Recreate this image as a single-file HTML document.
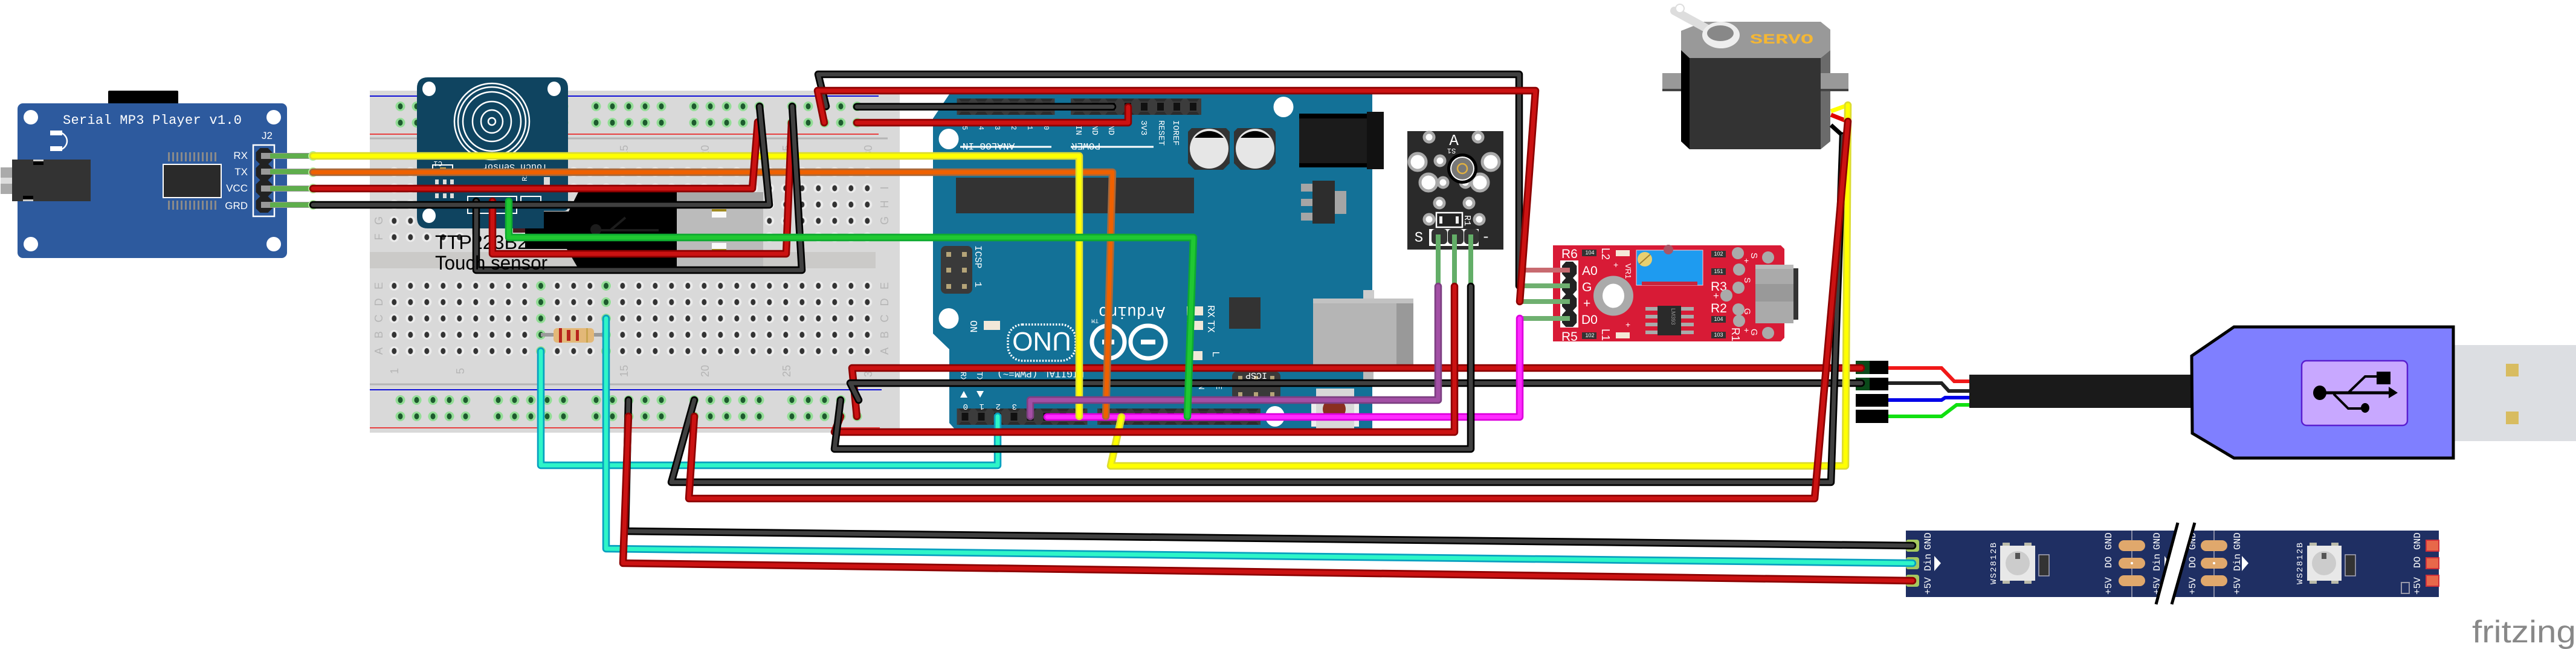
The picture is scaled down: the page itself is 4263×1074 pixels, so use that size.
<!DOCTYPE html>
<html><head><meta charset="utf-8"><style>
html,body{margin:0;padding:0;background:#fff;width:4263px;height:1074px;overflow:hidden}
svg{display:block}
text{font-family:"Liberation Sans",sans-serif}
.m{font-family:"Liberation Mono",monospace;fill:#fff}
.w{fill:#fff}
.bl{font-size:18px;fill:#b5b5b5;text-anchor:middle}
path.wr{fill:none;stroke-linejoin:round;stroke-linecap:round}
.o{stroke-width:12.5}.i{stroke-width:7}
.rO{stroke:#8c0000}.rI{stroke:#cb1212}
.kO{stroke:#000}.kI{stroke:#404040}
.yO{stroke:#dcdc30}.yI{stroke:#ffff00}
.nO{stroke:#a8683a}.nI{stroke:#ef6100}
.gO{stroke:#0eaa30}.gI{stroke:#20c832}
.cO{stroke:#08a0c0}.cI{stroke:#2ef5c8}
.pO{stroke:#7d3f82}.pI{stroke:#a34fa5}
.mO{stroke:#dc00dc}.mI{stroke:#ff2aff}
</style></head><body>
<svg xmlns="http://www.w3.org/2000/svg" width="4263" height="1074" viewBox="0 0 4263 1074">
<defs>
<pattern id="gh" width="27" height="27" patternUnits="userSpaceOnUse"><ellipse cx="13.5" cy="13.5" rx="8" ry="8" fill="#93dd96"/><ellipse cx="13.5" cy="13.5" rx="4" ry="5" fill="#1d5a2e"/></pattern>
<pattern id="mh" width="27" height="27" patternUnits="userSpaceOnUse"><ellipse cx="13.5" cy="13.5" rx="8" ry="8" fill="#ececec"/><ellipse cx="13.5" cy="13.5" rx="4" ry="5" fill="#333"/></pattern>
<pattern id="gg" width="27" height="27" patternUnits="userSpaceOnUse"><ellipse cx="13.5" cy="13.5" rx="8" ry="8" fill="#93dd96"/><ellipse cx="13.5" cy="13.5" rx="4" ry="5" fill="#1d5a2e"/></pattern>
<pattern id="hd" width="27" height="27" patternUnits="userSpaceOnUse"><rect width="27" height="27" fill="#3c3c3c"/><path d="M3 0L7 5H20L24 0M3 27L7 22H20L24 27" fill="#2c2c2c"/><rect x="8" y="7" width="11" height="13" fill="#111"/></pattern>
<polygon id="oct" points="7,0 20,0 27,7 27,20 20,27 7,27 0,20 0,7" fill="#222"/>
</defs>

<!-- Breadboard -->
<rect x="612" y="150" width="877" height="566" fill="#d9d9d9"/>
<rect x="612" y="417" width="837" height="27" fill="#cbcac8"/>
<g stroke-width="2" fill="none">
<path d="M612 159H1454M612 645H1459" stroke="#1010d8"/>
<path d="M612 222H1454M612 708H1456" stroke="#e84040"/>
<path d="M612 229H1469M612 636H1489" stroke="#b5b5b5" stroke-width="3"/>
</g>
<g fill="url(#gh)">
<g transform="translate(649,162.5)"><rect width="135" height="54"/></g>
<g transform="translate(811,162.5)"><rect width="135" height="54"/></g>
<g transform="translate(973,162.5)"><rect width="135" height="54"/></g>
<g transform="translate(1135,162.5)"><rect width="135" height="54"/></g>
<g transform="translate(1297,162.5)"><rect width="135" height="54"/></g>
<g transform="translate(649,648.5)"><rect width="135" height="54"/></g>
<g transform="translate(811,648.5)"><rect width="135" height="54"/></g>
<g transform="translate(973,648.5)"><rect width="135" height="54"/></g>
<g transform="translate(1135,648.5)"><rect width="135" height="54"/></g>
<g transform="translate(1297,648.5)"><rect width="135" height="54"/></g>
</g>
<g transform="translate(638.8,271)"><rect width="810" height="135" fill="url(#mh)"/></g>
<g transform="translate(638.8,459.5)"><rect width="810" height="135" fill="url(#mh)"/></g>
<g transform="translate(881.5,459.5)"><rect width="27" height="135" fill="url(#gg)"/></g>
<g transform="translate(989.5,459.5)"><rect width="27" height="135" fill="url(#gg)"/></g>
<g class="bl">
<text transform="translate(633,392) rotate(-90)" class="bl">F</text><text transform="translate(633,365) rotate(-90)" class="bl">G</text>
<text transform="translate(633,473) rotate(-90)" class="bl">E</text><text transform="translate(633,500) rotate(-90)" class="bl">D</text><text transform="translate(633,527) rotate(-90)" class="bl">C</text><text transform="translate(633,554) rotate(-90)" class="bl">B</text><text transform="translate(633,581) rotate(-90)" class="bl">A</text>
<text transform="translate(1470,311) rotate(-90)" class="bl">I</text><text transform="translate(1470,338) rotate(-90)" class="bl">H</text><text transform="translate(1470,365) rotate(-90)" class="bl">G</text>
<text transform="translate(1470,473) rotate(-90)" class="bl">E</text><text transform="translate(1470,500) rotate(-90)" class="bl">D</text><text transform="translate(1470,527) rotate(-90)" class="bl">C</text><text transform="translate(1470,554) rotate(-90)" class="bl">B</text><text transform="translate(1470,581) rotate(-90)" class="bl">A</text>
<text transform="translate(659,614) rotate(-90)" class="bl">1</text><text transform="translate(768,614) rotate(-90)" class="bl">5</text><text transform="translate(1039,614) rotate(-90)" class="bl">15</text><text transform="translate(1173,614) rotate(-90)" class="bl">20</text><text transform="translate(1308,614) rotate(-90)" class="bl">25</text><text transform="translate(1443,614) rotate(-90)" class="bl">30</text>
<text transform="translate(1039,250) rotate(-90)" class="bl">15</text><text transform="translate(1173,250) rotate(-90)" class="bl">20</text><text transform="translate(1308,250) rotate(-90)" class="bl">25</text><text transform="translate(1443,250) rotate(-90)" class="bl">30</text>
</g>
<!-- Resistor -->
<rect x="895" y="551" width="103" height="6" fill="#9a9a9a"/>
<rect x="916" y="543" width="67" height="24" rx="6" fill="#e3b878"/>
<path d="M925 543h5v24h-5zM938 546h6v18h-6zM953 546h5v18h-5z" fill="#b8241c"/><rect x="970" y="543" width="3" height="24" fill="#c9a550"/>

<!-- USB plug under sensor -->
<rect x="1120" y="318" width="143" height="123" fill="#bbb"/>
<rect x="1120" y="318" width="143" height="14" fill="#a8a8a8"/>
<rect x="1178" y="346" width="24" height="14" fill="#fafafa"/><rect x="1178" y="346" width="24" height="4" fill="#a08a20"/>
<rect x="1178" y="402" width="24" height="14" fill="#fafafa"/><rect x="1178" y="412" width="24" height="4" fill="#a08a20"/>
<polygon points="957,318 1120,318 1120,441 955,441 938,412 869,412 869,350 941,350" fill="#000"/>
<rect x="849" y="364" width="20" height="21" fill="#4a1a20"/>
<path d="M985 381H1090M1010 381L1035 360" stroke="#1c1c1c" stroke-width="4" fill="none"/><circle cx="986" cy="380" r="9" fill="#1c1c1c"/>

<!-- Touch sensor -->
<path d="M708 128H922Q940 128 940 146V342Q940 349 933 349H900V378H708Q690 378 690 360V146Q690 128 708 128Z" fill="#0f4460"/>
<ellipse cx="710" cy="147" rx="11" ry="12" fill="#fff"/><ellipse cx="917" cy="147" rx="11" ry="12" fill="#fff"/><ellipse cx="710" cy="357" rx="11" ry="12" fill="#fff"/>
<g fill="none" stroke="#fff" stroke-width="2.5">
<ellipse cx="814" cy="201" rx="62" ry="63"/><ellipse cx="814" cy="201" rx="56" ry="57"/><ellipse cx="814" cy="201" rx="48" ry="49"/><ellipse cx="814" cy="201" rx="32" ry="33"/><ellipse cx="814" cy="201" rx="18" ry="19"/><ellipse cx="814" cy="201" rx="6" ry="6"/>
</g>
<text transform="translate(852,272) rotate(180)" class="m" font-size="15" text-anchor="middle">Touch Sensor</text>
<text transform="translate(732,267) rotate(180)" class="m" font-size="12">C1</text>
<rect x="716" y="273" width="33" height="14" fill="none" stroke="#fff" stroke-width="2"/>
<rect x="728" y="277" width="10" height="8" fill="#c9a550"/>
<rect x="774" y="325" width="81" height="28" fill="none" stroke="#fff" stroke-width="2"/>
<rect x="862" y="325" width="33" height="15" fill="none" stroke="#fff" stroke-width="2"/>
<path d="M720 297h6v8h-6zM733 297h6v8h-6zM745 297h6v8h-6zM720 320h6v8h-6zM733 320h6v8h-6zM745 320h6v8h-6z" fill="#ddd"/>
<text transform="translate(872,300) rotate(-90)" class="m" font-size="12">R2</text>
<rect x="900" y="293" width="10" height="22" fill="#ddd"/>
<text x="720" y="412" font-size="32" fill="#000" textLength="154" lengthAdjust="spacingAndGlyphs">TTP223B2</text>

<!-- Arduino -->
<polygon points="1571,156 2271,156 2271,710 1580,710 1571,700 1571,578 1544,552 1544,196" fill="#137197"/>
<g fill="#fff">
<ellipse cx="1570" cy="230" rx="16.5" ry="17"/><ellipse cx="2124" cy="177" rx="16.5" ry="17"/><ellipse cx="1570" cy="527" rx="16.5" ry="17"/><ellipse cx="2110" cy="689" rx="16" ry="17"/>
</g>
<g transform="translate(1583.5,163)"><rect width="162" height="27" fill="url(#hd)"/></g>
<g transform="translate(1772,163)"><rect width="216" height="27" fill="url(#hd)"/></g>
<g transform="translate(1583.5,676)"><rect width="216" height="27" fill="url(#hd)"/></g>
<g transform="translate(1816,676)"><rect width="270" height="27" fill="url(#hd)"/></g>
<path d="M1589 243H1740M1772 243H1909" stroke="#fff" stroke-width="3"/>
<text transform="translate(1636,237) rotate(180)" class="m" font-size="16" text-anchor="middle">ANALOG IN</text>
<text transform="translate(1797,237) rotate(180)" class="m" font-size="16" text-anchor="middle">POWER</text>
<g class="m" font-size="14">
<text transform="translate(1889,199) rotate(90)" class="m" font-size="14">3V3</text>
<text transform="translate(1918,199) rotate(90)" class="m" font-size="14">RESET</text>
<text transform="translate(1942,199) rotate(90)" class="m" font-size="14">IOREF</text>
<text transform="translate(1781,207) rotate(90)" class="m" font-size="14">IN</text>
<text transform="translate(1808,207) rotate(90)" class="m" font-size="14">ND</text>
<text transform="translate(1835,207) rotate(90)" class="m" font-size="14">ND</text>
<text transform="translate(1593,208) rotate(90)" class="m" font-size="12">5</text><text transform="translate(1620,208) rotate(90)" class="m" font-size="12">4</text><text transform="translate(1647,208) rotate(90)" class="m" font-size="12">3</text><text transform="translate(1674,208) rotate(90)" class="m" font-size="12">2</text><text transform="translate(1701,208) rotate(90)" class="m" font-size="12">1</text><text transform="translate(1728,208) rotate(90)" class="m" font-size="12">0</text>
</g>
<!-- caps -->
<path d="M1972 212H2029L2035 218V270L2024 281H1977L1966 270V218Z" fill="#333"/>
<path d="M2048 212H2105L2111 218V270L2100 281H2053L2042 270V218Z" fill="#333"/>
<ellipse cx="2001" cy="246" rx="32" ry="33" fill="#e6e6e6"/><ellipse cx="2077" cy="246" rx="32" ry="33" fill="#e6e6e6"/>
<path d="M1977 228A32 33 0 0 1 2025 228Z" fill="#000"/><path d="M2053 228A32 33 0 0 1 2101 228Z" fill="#000"/>
<!-- power jack -->
<rect x="2150" y="188" width="130" height="89" fill="#1b1b1b"/>
<rect x="2262" y="185" width="28" height="95" fill="#111"/>
<rect x="2150" y="188" width="112" height="8" fill="#000"/><rect x="2150" y="270" width="112" height="7" fill="#000"/>
<!-- ATmega -->
<rect x="1582" y="294" width="394" height="59" fill="#333"/>
<!-- regulator -->
<path d="M2153 304h19v13h-19zM2153 329h19v12h-19zM2153 352h19v13h-19z" fill="#a5a5a5"/>
<rect x="2209" y="316" width="19" height="38" fill="#a5a5a5"/>
<rect x="2172" y="299" width="37" height="71" fill="#2d2d2d"/>
<!-- ICSP left -->
<rect x="1557" y="407" width="52" height="79" rx="8" fill="#3a3a3a"/>
<path d="M1566 417h8v8h-8zM1592 417h8v8h-8zM1566 443h8v8h-8zM1592 443h8v8h-8zM1566 470h8v8h-8zM1592 470h8v8h-8z" fill="#b5a478"/>
<text transform="translate(1614,406) rotate(90)" class="m" font-size="16">ICSP</text>
<text transform="translate(1614,466) rotate(90)" class="m" font-size="16">1</text>
<!-- LEDs -->
<rect x="1628" y="531" width="27" height="15" fill="#f2e8d8"/><rect x="1964" y="507" width="27" height="15" fill="#f2e8d8"/><rect x="1964" y="531" width="27" height="15" fill="#f2e8d8"/><rect x="1973" y="581" width="17" height="15" fill="#f2e8d8"/>
<text transform="translate(1606,530) rotate(90)" class="m" font-size="17">ON</text>
<text transform="translate(1999,505) rotate(90)" class="m" font-size="17">RX</text>
<text transform="translate(1999,530) rotate(90)" class="m" font-size="17">TX</text>
<text transform="translate(2007,581) rotate(90)" class="m" font-size="17">L</text>
<rect x="2034" y="492" width="52" height="52" fill="#333"/>
<!-- USB on Arduino -->
<rect x="2256" y="480" width="18" height="16" fill="#ccc"/>
<rect x="2173" y="494" width="138" height="121" fill="#b5b5b5"/><rect x="2311" y="494" width="28" height="121" fill="#999"/>
<rect x="2173" y="494" width="166" height="8" fill="#c2c2c2"/>
<rect x="2256" y="615" width="17" height="15" fill="#bbb"/>
<!-- ICSP 2 -->
<rect x="2039" y="615" width="80" height="46" rx="8" fill="#3a3a3a"/>
<path d="M2049 622h7v9h-7zM2075 622h7v9h-7zM2102 622h7v9h-7zM2049 649h7v9h-7zM2075 649h7v9h-7zM2102 649h7v9h-7z" fill="#b5a478"/>
<text transform="translate(2079,617) rotate(180)" class="m" font-size="15" text-anchor="middle">ICSP</text>
<!-- reset -->
<rect x="2170" y="661" width="79" height="45" fill="#eee"/><rect x="2178" y="643" width="63" height="67" fill="#d8d8d8"/>
<ellipse cx="2208" cy="677" rx="19" ry="18" fill="#8a2f20"/>
<!-- logo -->
<rect x="1668" y="537" width="112" height="60" rx="24" fill="none" stroke="#fff" stroke-width="3.5" stroke-dasharray="2.5 2.5"/>
<text transform="translate(1724,550) rotate(180)" font-size="44" fill="#fff" text-anchor="middle" style="font-weight:400">UNO</text>
<ellipse cx="1834" cy="566" rx="27" ry="27" fill="none" stroke="#fff" stroke-width="7"/>
<ellipse cx="1900" cy="566" rx="29" ry="27" fill="none" stroke="#fff" stroke-width="7"/>
<rect x="1888" y="562" width="24" height="8" fill="#fff"/><rect x="1824" y="562" width="20" height="8" fill="#fff"/>
<text transform="translate(1873,508) rotate(180)" class="m" font-size="28" text-anchor="middle" textLength="110" lengthAdjust="spacingAndGlyphs">Arduino</text>
<text transform="translate(1812,528) rotate(180)" class="m" font-size="10" text-anchor="middle">TM</text>
<text transform="translate(1722,614) rotate(180)" class="m" font-size="16" text-anchor="middle">DIGITAL (PWM=~)</text>
<g>
<text transform="translate(1590,615) rotate(90)" class="m" font-size="14">RX</text>
<text transform="translate(1617,615) rotate(90)" class="m" font-size="14">TX</text>
<text transform="translate(1602,669) rotate(180)" class="m" font-size="14">0</text><text transform="translate(1629,669) rotate(180)" class="m" font-size="14">1</text><text transform="translate(1656,669) rotate(180)" class="m" font-size="14">2</text><text transform="translate(1683,669) rotate(180)" class="m" font-size="14">3</text>
<polygon points="1589,658 1601,658 1595,647" fill="#fff"/><polygon points="1616,647 1628,647 1622,658" fill="#fff"/>
<text transform="translate(1984,628) rotate(90)" class="m" font-size="14">GN</text>
<text transform="translate(2013,628) rotate(90)" class="m" font-size="14">RE</text>
</g>

<!-- MP3 player -->
<rect x="179" y="150" width="116" height="25" rx="2" fill="#000"/>
<rect x="29" y="171" width="446" height="256" rx="9" fill="#2d5a9e"/>
<ellipse cx="51" cy="194" rx="12" ry="12" fill="#fff"/><ellipse cx="453" cy="194" rx="12" ry="12" fill="#fff"/><ellipse cx="51" cy="404" rx="12" ry="12" fill="#fff"/><ellipse cx="453" cy="404" rx="12" ry="12" fill="#fff"/>
<text x="104" y="205" class="m" font-size="22" textLength="296">Serial MP3 Player v1.0</text>
<path d="M100 219A19 16 0 0 1 100 248" fill="none" stroke="#fff" stroke-width="2.5"/>
<path d="M83 216h20v8h-20zM83 242h20v8h-20z" fill="#fff"/>
<rect x="1" y="277" width="19" height="44" fill="#aaa"/><rect x="1" y="294" width="19" height="10" fill="#ddd"/>
<rect x="20" y="264" width="130" height="69" fill="#333"/>
<rect x="55" y="265" width="17" height="8" fill="#000"/><rect x="38" y="324" width="17" height="8" fill="#000"/>
<rect x="55" y="264" width="17" height="3" fill="#ccc"/><rect x="38" y="330" width="17" height="3" fill="#ccc"/>
<g fill="#8a8a8a">
<path d="M278 252h3v15h-3zM285 252h3v15h-3zM292 252h3v15h-3zM299 252h3v15h-3zM306 252h3v15h-3zM313 252h3v15h-3zM320 252h3v15h-3zM327 252h3v15h-3zM334 252h3v15h-3zM341 252h3v15h-3zM348 252h3v15h-3zM355 252h3v15h-3z"/>
<path d="M278 332h3v15h-3zM285 332h3v15h-3zM292 332h3v15h-3zM299 332h3v15h-3zM306 332h3v15h-3zM313 332h3v15h-3zM320 332h3v15h-3zM327 332h3v15h-3zM334 332h3v15h-3zM341 332h3v15h-3zM348 332h3v15h-3zM355 332h3v15h-3z"/>
</g>
<rect x="270" y="272" width="96" height="55" fill="#2a2a2a" stroke="#fff" stroke-width="2"/>
<rect x="419" y="240" width="35" height="118" fill="none" stroke="#fff" stroke-width="2.5"/>
<use href="#oct" x="423.5" y="245"/><use href="#oct" x="423.5" y="271"/><use href="#oct" x="423.5" y="298"/><use href="#oct" x="423.5" y="325"/>
<g class="m" font-size="17" text-anchor="end">
<text x="410" y="263">RX</text><text x="410" y="290">TX</text><text x="410" y="317">VCC</text><text x="410" y="346">GRD</text>
<text x="451" y="230">J2</text>
</g>
<g>
<rect x="432" y="253" width="86" height="10" fill="#999"/><rect x="432" y="279" width="86" height="10" fill="#999"/><rect x="432" y="307" width="86" height="10" fill="#999"/><rect x="432" y="334" width="86" height="10" fill="#999"/>
<rect x="447" y="254" width="71" height="8" fill="#5fae4c"/><rect x="447" y="280" width="71" height="8" fill="#5fae4c"/><rect x="447" y="308" width="71" height="8" fill="#5fae4c"/><rect x="447" y="335" width="71" height="8" fill="#5fae4c"/>
<circle cx="518" cy="258" r="8" fill="#b4f0a0"/><circle cx="518" cy="285" r="8" fill="#b4f0a0"/><circle cx="518" cy="312" r="8" fill="#b4f0a0"/><circle cx="518" cy="339" r="8" fill="#b4f0a0"/>
</g>

<!-- KY sensor -->
<rect x="2329" y="217" width="159" height="196" fill="#2a2a2a"/>
<g fill="#fff" stroke="#aaa" stroke-width="5">
<circle cx="2365" cy="227" r="8"/><circle cx="2446" cy="227" r="8"/>
<circle cx="2346" cy="268" r="14"/><circle cx="2467" cy="268" r="14"/>
<circle cx="2383" cy="266" r="8"/>
<circle cx="2364" cy="302" r="14"/><circle cx="2449" cy="302" r="14"/><circle cx="2388" cy="302" r="8"/><circle cx="2425" cy="302" r="8"/>
<circle cx="2382" cy="336" r="8"/><circle cx="2431" cy="336" r="8"/>
<circle cx="2365" cy="363" r="8"/><circle cx="2448" cy="363" r="8"/>
</g>
<circle cx="2420" cy="279" r="25" fill="#000"/><circle cx="2420" cy="279" r="20" fill="#fff"/><circle cx="2420" cy="279" r="18" fill="#777"/><circle cx="2420" cy="279" r="8" fill="none" stroke="#e0b040" stroke-width="2.5"/>
<text x="2406" y="240" class="m" font-size="26" text-anchor="middle">A</text>
<text transform="translate(2402,246) rotate(180)" class="m" font-size="12" text-anchor="middle">S1</text>
<rect x="2377" y="352" width="43" height="24" fill="#222" stroke="#fff" stroke-width="2.5"/><rect x="2382" y="358" width="32" height="12" fill="#eee"/><rect x="2387" y="358" width="22" height="12" fill="#222"/>
<text transform="translate(2424,356) rotate(90)" class="m" font-size="15">R1</text>
<rect x="2365" y="379" width="82" height="28" fill="#fff"/><rect x="2369" y="379" width="26" height="25" rx="6" fill="#333"/><rect x="2396" y="379" width="26" height="25" rx="6" fill="#333"/><rect x="2423" y="379" width="24" height="25" rx="6" fill="#333"/>
<text x="2348" y="400" class="m" font-size="24" text-anchor="middle">S</text><text x="2459" y="399" class="m" font-size="24" text-anchor="middle">-</text>
<path d="M2380 388V474M2407 388V474M2434 388V474" stroke="#63ae68" stroke-width="8" fill="none"/>

<!-- Microphone -->
<polygon points="2570,406 2947,406 2953,412 2953,559 2947,565 2570,565" fill="#d81b36"/>
<rect x="2582" y="431" width="30" height="111" fill="#fff"/>
<use href="#oct" transform="translate(2585,433) scale(.9,1)"/><use href="#oct" transform="translate(2585,460) scale(.9,1)"/><use href="#oct" transform="translate(2585,487) scale(.9,1)"/><use href="#oct" transform="translate(2585,514) scale(.9,1)"/>
<g class="w" font-size="21">
<text x="2584" y="427" fill="#fff">R6</text><text x="2618" y="455" fill="#fff">A0</text><text x="2618" y="482" fill="#fff">G</text><text x="2620" y="509" fill="#fff">+</text><text x="2617" y="536" fill="#fff">D0</text><text x="2584" y="564" fill="#fff">R5</text>
<text x="2831" y="481" fill="#fff">R3</text><text x="2831" y="517" fill="#fff">R2</text>
</g>
<rect x="2708" y="414" width="110" height="58" fill="#1e9bf0" stroke="#f0d0e0"/><rect x="2717" y="466" width="92" height="6" fill="#c8243c"/>
<circle cx="2722" cy="429" r="12" fill="#e8d070"/>
<path d="M2713 437L2731 421" stroke="#a08030" stroke-width="2"/>
<circle cx="2761" cy="413" r="8" fill="#a56"/>
<ellipse cx="2670" cy="489.5" rx="33" ry="33" fill="#aaa"/><ellipse cx="2670" cy="489.5" rx="18" ry="20" fill="#fff"/>
<g fill="#aaa"><rect x="2723" y="508" width="80" height="6"/><rect x="2723" y="521" width="80" height="6"/><rect x="2723" y="534" width="80" height="6"/><rect x="2723" y="547" width="80" height="6"/></g>
<rect x="2743" y="506" width="39" height="49" fill="#2a2a2a"/>
<text transform="translate(2766,510) rotate(90)" font-size="9" fill="#999">LM393</text>
<g fill="#333"><rect x="2618" y="413" width="24" height="11"/><rect x="2618" y="550" width="24" height="11"/><rect x="2832" y="415" width="24" height="11"/><rect x="2832" y="444" width="24" height="11"/><rect x="2832" y="523" width="24" height="11"/><rect x="2832" y="549" width="24" height="11"/></g>
<g class="m" font-size="9" text-anchor="middle">
<text x="2631" y="421">104</text><text x="2631" y="558">102</text><text x="2844" y="423">102</text><text x="2844" y="452">151</text><text x="2844" y="531">104</text><text x="2844" y="557">103</text>
</g>
<g class="w" font-size="14">
<text transform="translate(2651,410) rotate(90)" fill="#fff" font-size="18">L2</text>
<text transform="translate(2651,544) rotate(90)" fill="#fff" font-size="18">L1</text>
<text transform="translate(2690,436) rotate(90)" fill="#fff" font-size="13">VR1</text>
<text x="2670" y="443" fill="#fff">+</text><text x="2690" y="542" fill="#fff">+</text>
<text transform="translate(2898,418) rotate(90)" fill="#fff" font-size="15">S</text>
<text x="2886" y="436" fill="#fff">+</text>
<text transform="translate(2887,459) rotate(90)" fill="#fff" font-size="14">S</text>
<text x="2835" y="495" fill="#fff" font-size="17">+</text>
<text transform="translate(2887,510) rotate(90)" fill="#fff" font-size="14">G</text>
<text x="2886" y="551" fill="#fff">+</text>
<text transform="translate(2898,544) rotate(90)" fill="#fff" font-size="15">G</text>
<text transform="translate(2866,542) rotate(90)" fill="#fff" font-size="18">R1</text>
</g>
<rect x="2674" y="414" width="23" height="10" fill="#f5e8d8"/><rect x="2674" y="550" width="23" height="10" fill="#f5e8d8"/>
<g fill="#aaa"><circle cx="2876" cy="419" r="10"/><circle cx="2878" cy="446" r="10"/><circle cx="2878" cy="531" r="10"/><circle cx="2877" cy="476" r="10"/><circle cx="2857" cy="489" r="10"/><circle cx="2877" cy="512" r="10"/><circle cx="2926" cy="426" r="10"/><circle cx="2926" cy="551" r="10"/></g>
<rect x="2968" y="444" width="8" height="85" fill="#333"/>
<rect x="2905" y="438" width="63" height="97" fill="#aaa"/><rect x="2905" y="470" width="63" height="29" fill="#999"/><rect x="2905" y="438" width="63" height="7" fill="#bbb"/>
<g fill="#6fb070"><rect x="2520" y="469" width="78" height="8"/><rect x="2520" y="495" width="78" height="8"/><rect x="2520" y="523" width="78" height="8"/></g>
<rect x="2524" y="443" width="74" height="8" fill="#c86a70"/>

<!-- Servo -->
<rect x="2751" y="121" width="45" height="30" fill="#999"/><rect x="2751" y="147" width="45" height="4" fill="#444"/>
<rect x="3013" y="121" width="46" height="30" fill="#999"/><rect x="3013" y="147" width="46" height="4" fill="#444"/>
<polygon points="2782,51 2820,36 3013,36 3029,49 3029,83 3013,96 2796,96 2782,83" fill="#999"/>
<polygon points="2782,83 2796,96 2796,247 2782,234" fill="#000"/>
<polygon points="3013,96 3029,83 3029,234 3013,247" fill="#6b6b6b"/>
<rect x="2796" y="96" width="217" height="151" fill="#333"/>
<path d="M3013 121H3029V138L3013 151Z M3013 121H3029V151H3013Z" fill="#999"/><rect x="3013" y="147" width="16" height="4" fill="#444"/>
<path d="M2771 18L2848 60" stroke="#ddd" stroke-width="14" stroke-linecap="round"/>
<ellipse cx="2848" cy="58" rx="31" ry="22" fill="#eee"/>
<circle cx="2780" cy="14" r="7" fill="#fff" stroke="#ddd" stroke-width="2"/>
<ellipse cx="2847" cy="55" rx="22" ry="13" fill="#888"/>
<text x="2896" y="72" font-size="23" style="font-family:'Liberation Mono',monospace;font-weight:700" fill="#f5b733" textLength="105" lengthAdjust="spacingAndGlyphs">SERVO</text>
<path d="M3030 184L3058 174" stroke="#ffff00" stroke-width="7"/><path d="M3030 190L3058 201" stroke="#e00000" stroke-width="7"/><path d="M3030 207L3050 225" stroke="#000" stroke-width="7"/>

<!-- USB FTDI cable -->
<g fill="none" stroke-width="6">
<path d="M3125 609H3213L3234 631H3259" stroke="#f01818"/>
<path d="M3125 634H3213L3225 647H3259" stroke="#222"/>
<path d="M3125 662H3213L3219 658H3259" stroke="#0000e8"/>
<path d="M3125 689H3213L3238 670H3259" stroke="#10e010"/>
</g>
<rect x="3071" y="597" width="54" height="22" fill="#000"/><rect x="3071" y="625" width="54" height="21" fill="#000"/><rect x="3071" y="652" width="54" height="21" fill="#000"/><rect x="3071" y="678" width="54" height="22" fill="#000"/>
<rect x="3071" y="597" width="23" height="22" fill="#0a4a1a"/><rect x="3071" y="625" width="23" height="21" fill="#0a4a1a"/>
<rect x="3259" y="620" width="368" height="55" fill="#1a1a1a"/>
<rect x="4062" y="571" width="201" height="159" fill="#dcdee2"/>
<rect x="4147" y="602" width="21" height="21" fill="#d8bc60"/><rect x="4147" y="681" width="21" height="21" fill="#d8bc60"/>
<polygon points="3627,589 3697,541 4060,541 4060,758 3697,758 3628,717" fill="#7f7fff" stroke="#000" stroke-width="5"/>
<rect x="3809" y="597" width="175" height="107" rx="8" fill="#c8a8ff" stroke="#5a1fd0" stroke-width="2.5"/>
<ellipse cx="3839" cy="650" rx="11" ry="12" fill="#000"/>
<path d="M3845 650H3960" stroke="#000" stroke-width="5"/><polygon points="3953,640 3968,650 3953,659" fill="#000"/>
<path d="M3886 650L3914 623H3940" stroke="#000" stroke-width="4" fill="none"/><rect x="3933" y="615" width="23" height="21" fill="#000"/>
<path d="M3862 652L3886 676H3910" stroke="#000" stroke-width="4" fill="none"/><ellipse cx="3914" cy="675" rx="7" ry="8" fill="#000"/>

<!-- LED strip -->
<rect x="3154" y="878" width="882" height="110" fill="#1f2f63"/>
<path d="M3528 878V988M3664 878V988" stroke="#aab" stroke-width="1.5"/>
<g fill="#e0a86c">
<rect x="3506" y="894" width="44" height="18" rx="9"/><rect x="3506" y="923" width="44" height="18" rx="9"/><rect x="3506" y="952" width="44" height="18" rx="9"/>
<rect x="3642" y="894" width="44" height="18" rx="9"/><rect x="3642" y="923" width="44" height="18" rx="9"/><rect x="3642" y="952" width="44" height="18" rx="9"/>
</g>
<circle cx="3528" cy="932" r="2" fill="#fff"/><circle cx="3664" cy="932" r="2" fill="#fff"/>
<g fill="#e8684a" stroke="#d0303a" stroke-width="2"><rect x="4015" y="894" width="21" height="18"/><rect x="4015" y="923" width="21" height="18"/><rect x="4015" y="952" width="21" height="18"/></g>
<g fill="#a5c860"><rect x="3154" y="893" width="22" height="20" rx="4"/><rect x="3154" y="922" width="22" height="20" rx="4"/><rect x="3154" y="951" width="22" height="20" rx="4"/></g>
<g>
<rect x="3310" y="903" width="58" height="58" fill="#e8e8e8"/><circle cx="3339" cy="932" r="20" fill="#ccc"/><rect x="3335" y="915" width="8" height="10" fill="#555"/>
<rect x="3818" y="903" width="57" height="58" fill="#e8e8e8"/><circle cx="3846" cy="932" r="20" fill="#ccc"/><rect x="3842" y="915" width="8" height="10" fill="#555"/>
<path d="M3314 898h12v5h-12zM3350 898h12v5h-12zM3314 961h12v5h-12zM3350 961h12v5h-12zM3822 898h12v5h-12zM3858 898h12v5h-12zM3822 961h12v5h-12zM3858 961h12v5h-12z" fill="#bba"/>
<rect x="3374" y="918" width="17" height="35" fill="#333" stroke="#aab" stroke-width="1.5"/><rect x="3881" y="918" width="17" height="35" fill="#333" stroke="#aab" stroke-width="1.5"/>
</g>
<polygon points="3201,920 3212,932 3201,945" fill="#fff"/><polygon points="3582,920 3590,932 3582,945" fill="#fff"/><polygon points="3710,920 3721,932 3710,945" fill="#fff"/>
<g>
<text transform="translate(3303,967) rotate(-90)" class="m" font-size="14" textLength="69">WS2812B</text>
<text transform="translate(3810,967) rotate(-90)" class="m" font-size="14" textLength="69">WS2812B</text>
<text transform="translate(3195,910) rotate(-90)" class="m" font-size="16">GND</text><text transform="translate(3195,945) rotate(-90)" class="m" font-size="16">Din</text><text transform="translate(3195,984) rotate(-90)" class="m" font-size="16">+5V</text>
<text transform="translate(3494,910) rotate(-90)" class="m" font-size="16">GND</text><text transform="translate(3494,940) rotate(-90)" class="m" font-size="16">DO</text><text transform="translate(3494,984) rotate(-90)" class="m" font-size="16">+5V</text>
<text transform="translate(3574,910) rotate(-90)" class="m" font-size="16">GND</text><text transform="translate(3574,945) rotate(-90)" class="m" font-size="16">Din</text><text transform="translate(3574,984) rotate(-90)" class="m" font-size="16">+5V</text>
<text transform="translate(3633,910) rotate(-90)" class="m" font-size="16">GND</text><text transform="translate(3633,940) rotate(-90)" class="m" font-size="16">DO</text><text transform="translate(3633,984) rotate(-90)" class="m" font-size="16">+5V</text>
<text transform="translate(3707,910) rotate(-90)" class="m" font-size="16">GND</text><text transform="translate(3707,945) rotate(-90)" class="m" font-size="16">Din</text><text transform="translate(3707,984) rotate(-90)" class="m" font-size="16">+5V</text>
<text transform="translate(4005,910) rotate(-90)" class="m" font-size="16">GND</text><text transform="translate(4005,940) rotate(-90)" class="m" font-size="16">DO</text><text transform="translate(4005,984) rotate(-90)" class="m" font-size="16">+5V</text>
</g>
<rect x="3974" y="964" width="13" height="18" fill="none" stroke="#99a" stroke-width="2"/>
<polygon points="3604,865 3632,865 3594,1000 3568,1000" fill="#fff"/>
<path d="M3604 865L3568 1000M3632 865L3594 1000" stroke="#000" stroke-width="5"/>
<text x="4091" y="1063" font-size="52" fill="#888" textLength="172" lengthAdjust="spacingAndGlyphs">fritzing</text>

<!-- Wires -->
<g class="wires">
<path class="wr o rO" d="M1418 689L1410 609H3080"/><path class="wr i rI" d="M1418 689L1410 609H3080"/>
<path class="wr o kO" d="M1421 662L1407 634H3080"/><path class="wr i kI" d="M1421 662L1407 634H3080"/>
<path class="wr o mO" d="M2515 527V690H1733"/><path class="wr i mI" d="M2515 527V690H1733"/>
<path class="wr o cO" d="M895 581V770H1651V689"/><path class="wr i cI" d="M895 581V770H1651V689"/>
<path class="wr o cO" d="M1003 527V908L3165 932"/><path class="wr i cI" d="M1003 527V908L3165 932"/>
<path class="wr o yO" d="M1856 690L1838 771H3054L3058 174"/><path class="wr i yI" d="M1856 690L1838 771H3054L3058 174"/>
<path class="wr o nO" d="M518 285H1841L1830 689"/><path class="wr i nI" d="M518 285H1841L1830 689"/>
<path class="wr o yO" d="M518 258H1786V689"/><path class="wr i yI" d="M518 258H1786V689"/>
<path class="wr o pO" d="M2380 474V662H1705V689"/><path class="wr i pI" d="M2380 474V662H1705V689"/>
<path class="wr o rO" d="M815 333V420H1301L1310 203"/><path class="wr i rI" d="M815 333V420H1301L1310 203"/>
<path class="wr o kO" d="M788 333V447H1327L1311 176"/><path class="wr i kI" d="M788 333V447H1327L1311 176"/>
<path class="wr o rO" d="M518 312H1245L1254 202"/><path class="wr i rI" d="M518 312H1245L1254 202"/>
<path class="wr o kO" d="M518 339H1273L1257 176"/><path class="wr i kI" d="M518 339H1273L1257 176"/>
<path class="wr o gO" d="M842 333V393H1975L1965 689"/><path class="wr i gI" d="M842 333V393H1975L1965 689"/>
<path class="wr o rO" d="M2407 474V715H1381L1391 689"/><path class="wr i rI" d="M2407 474V715H1381L1391 689"/>
<path class="wr o kO" d="M2434 474V743H1381L1391 662"/><path class="wr i kI" d="M2434 474V743H1381L1391 662"/>
<path class="wr o kO" d="M1149 662L1111 798H3030L3050 225"/><path class="wr i kI" d="M1149 662L1111 798H3030L3050 225"/>
<path class="wr o rO" d="M1149 689L1140 825H3003L3058 201"/><path class="wr i rI" d="M1149 689L1140 825H3003L3058 201"/>
<path class="wr o kO" d="M1040 662L1035 879L3165 903"/><path class="wr i kI" d="M1040 662L1035 879L3165 903"/>
<path class="wr o rO" d="M1040 689L1031 932L3165 961"/><path class="wr i rI" d="M1040 689L1031 932L3165 961"/>
<path class="wr o kO" d="M1367 176L1354 123H2514V473"/><path class="wr i kI" d="M1367 176L1354 123H2514V473"/>
<path class="wr o rO" d="M1364 203L1353 150H2541L2515 499"/><path class="wr i rI" d="M1364 203L1353 150H2541L2515 499"/>
<path class="wr o kO" d="M1418 176.6H1841"/><path class="wr i kI" d="M1418 176.6H1841"/>
<path class="wr o rO" d="M1418 203H1867V177"/><path class="wr i rI" d="M1418 203H1867V177"/>
</g>
<text x="720" y="446" font-size="32" fill="#000" textLength="186" lengthAdjust="spacingAndGlyphs">Touch sensor</text>
</svg>
</body></html>
